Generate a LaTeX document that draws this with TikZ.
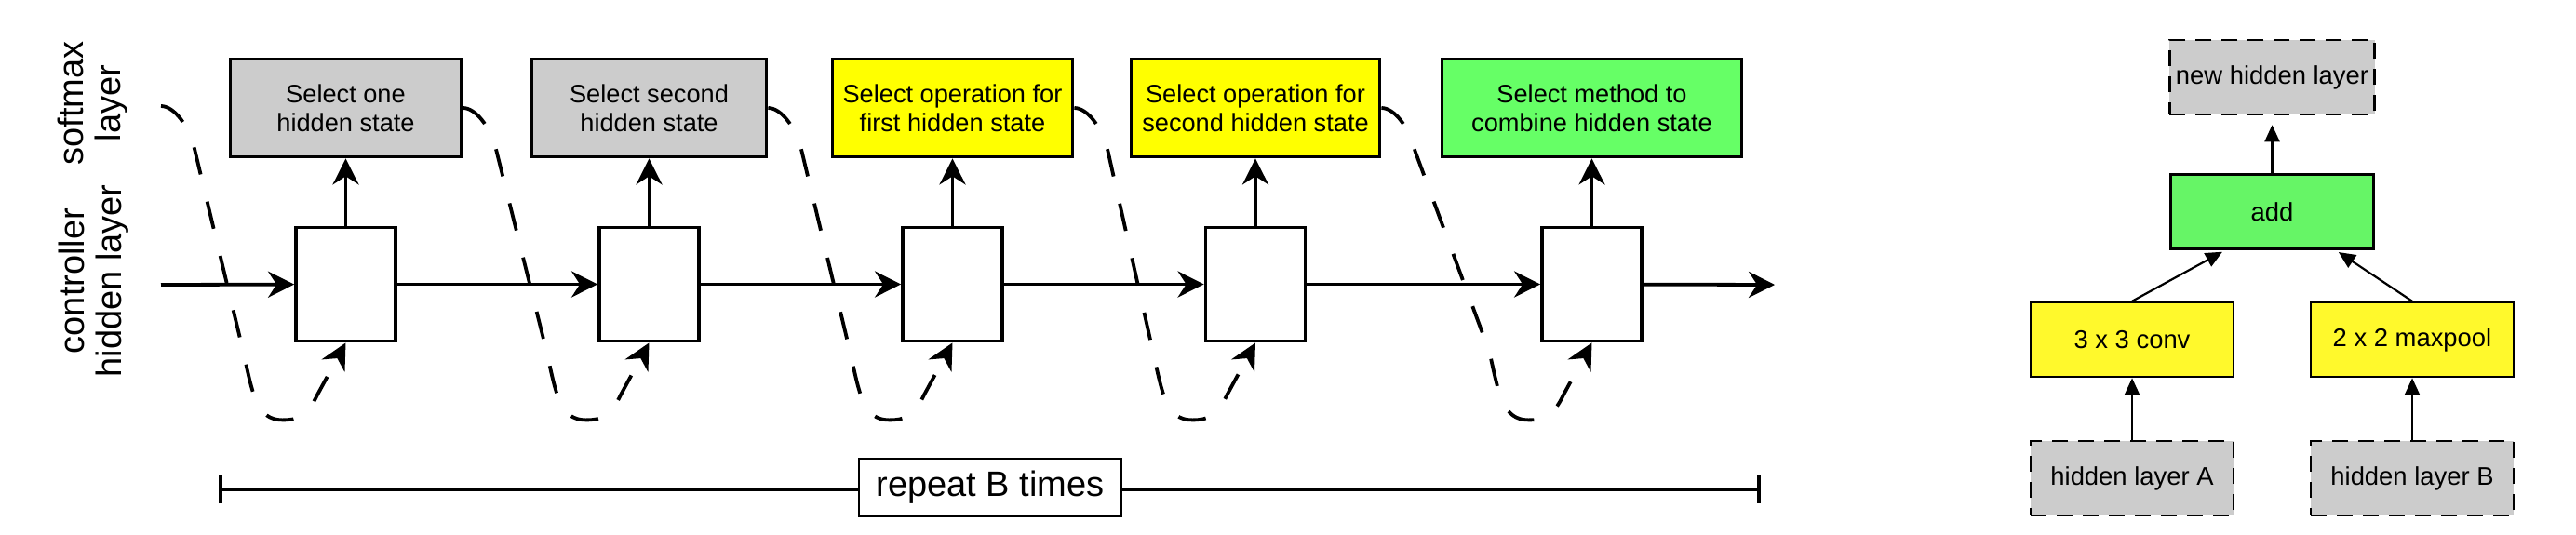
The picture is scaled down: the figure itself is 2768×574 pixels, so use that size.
\documentclass[tikz,border=0pt]{standalone}
\usepackage{fontspec}
\setmainfont{Liberation Sans}
\usetikzlibrary{arrows.meta}
\definecolor{selgray}{HTML}{CCCCCC}
\definecolor{selyellow}{HTML}{FFFF00}
\definecolor{selgreen}{HTML}{66FF66}
\definecolor{opyellow}{HTML}{FFF92C}
\definecolor{opgreen}{HTML}{66F566}
\tikzset{
  sel/.style={draw,line width=1.9pt,minimum height=52.5pt,align=center,font=\fontsize{13.6}{15.5}\selectfont},
  cell/.style={draw,fill=white,line width=1.9pt,minimum width=53.5pt,minimum height=61pt},
  flow/.style={line width=1.9pt,-{Stealth[length=14pt,width=14pt,inset=4.5pt]}},
  back/.style={flow,dash pattern=on 15pt off 15pt},
  side/.style={rotate=90,align=center,font=\fontsize{19}{20}\selectfont},
  op/.style={draw,line width=1.3pt,minimum width=109pt,minimum height=40pt,font=\fontsize{13.7}{15}\selectfont},
  hid/.style={op,fill=selgray,dash pattern=on 8.5pt off 5.5pt},
  link/.style={line width=1.1pt,-{Triangle[length=9pt,width=8pt]}}
}
\begin{document}
\begin{tikzpicture}[x=0.5pt,y=-0.5pt]
        \useasboundingbox(0,0)rectangle(2768,574);
        \node[side](lsoft)at(100,111){softmax\\layer};
        \node[side](lctrl)at(101,302){controller\\hidden layer};
        \coordinate(in)at(173,306);
        \coordinate(out)at(1907,306);
        \coordinate(st1)at(173,114);
        \foreach\x/\w/\c/\t[count=\i]in{371.5/124/selgray/{Select one\\hidden state},697.5/126/selgray/{Select second\\hidden state},1023.5/129/selyellow/{Select operation for\\first hidden state},1349/133.5/selyellow/{Select operation for\\second hidden state},1710.5/161/selgreen/{Select method to\\combine hidden state}}{
        \pgfmathtruncatemacro\j{\i+1}
        \node[cell](c\i)at(\x,305.5){};
        \node[sel,fill=\c,minimum width=\w pt](s\i)at(\x,116){\t};
        \coordinate(st\j)at(s\i.east);
        \draw[flow](c\i)--(s\i);
        \path(st\i)++(36,46)coordinate(a\i);
        \path(c\i.south)++(-110,10)coordinate(b\i);
        \path(c\i.south)++(-68,83)coordinate(m\i);
        \path(c\i.south)++(-30,55)coordinate(n\i);
        \draw[back](st\i)..controls+(14,0)and+(-6,-25)..(a\i)--(b\i)..controls+(10,45)and+(-28,0)..(m\i)..controls+(16,0)and+(-12,25)..(n\i)--(c\i.south);
        }
        \draw[flow](in)--(c1);
        \foreach\i[count=\j from 2]in{1,...,4}\draw[flow](c\i)--(c\j);
        \draw[flow](c5)--(out);
        \coordinate(bl)at(235,526);
        \coordinate(br)at(1892,526);
        \draw[line width=1.9pt,{Bar[width=15pt]}-{Bar[width=15pt]}](bl)--(br);
        \node[draw,fill=white,line width=1.2pt,minimum width=141pt,minimum height=31pt,font=\fontsize{19}{20}\selectfont](rep)at(1064,524){repeat B times};
        \node[hid](newh)at(2441.5,83){new hidden layer};
        \node[op,fill=opgreen](add)at(2441.5,227.5){add};
        \node[op,fill=opyellow](conv)at(2291,365){3 x 3 conv};
        \node[op,fill=opyellow](pool)at(2592,365){2 x 2 maxpool};
        \node[hid](hA)at(2291,514){hidden layer A};
        \node[hid](hB)at(2592,514){hidden layer B};
        \draw[link,shorten >=5pt](add)--(newh);
        \draw[link,shorten >=2pt](conv.north)--([xshift=-25pt]add.south);
        \draw[link,shorten >=2pt](pool.north)--([xshift=34pt]add.south);
        \draw[link](hA)--(conv);
        \draw[link](hB)--(pool);
\end{tikzpicture}
\end{document}
